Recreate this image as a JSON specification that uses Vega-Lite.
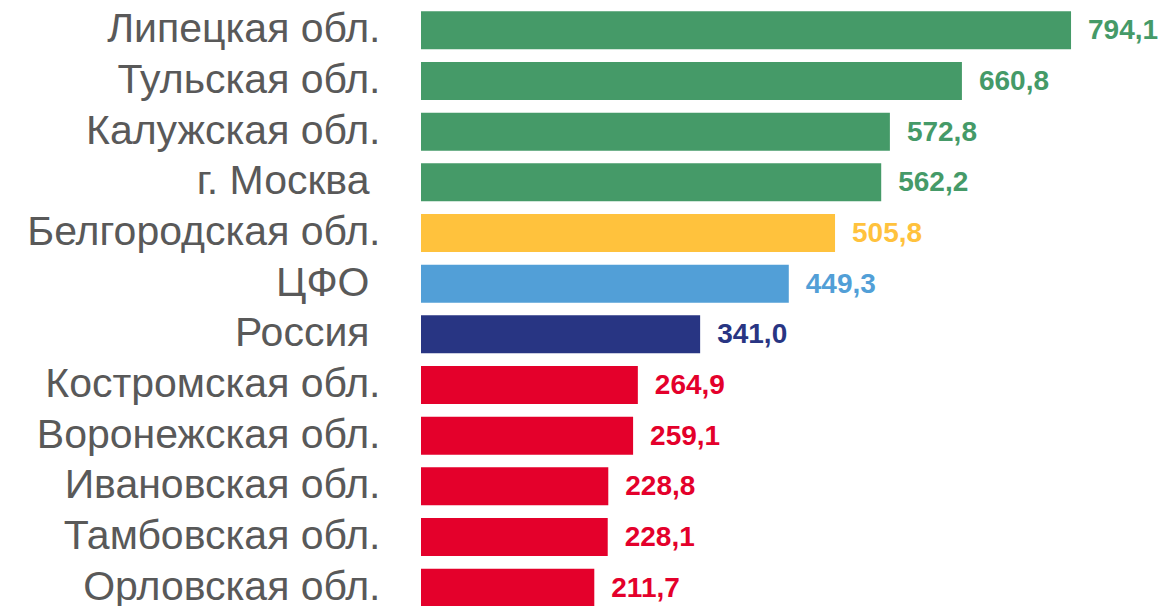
{
  "$schema": "https://vega.github.io/schema/vega-lite/v6.json",
  "width": 740,
  "height": 608,
  "autosize": {"type": "none"},
  "padding": {"left": 421, "top": 5, "right": 0, "bottom": 0},
  "background": "white",
  "config": {
    "view": {"stroke": null},
    "font": "Liberation Sans",
    "locale": {"number": {"decimal": ",", "thousands": " ", "grouping": [3], "currency": ["", " ₽"]}}
  },
  "data": {
    "values": [
      {"region": "Липецкая обл.", "value": 794.1, "group": "high"},
      {"region": "Тульская обл.", "value": 660.8, "group": "high"},
      {"region": "Калужская обл.", "value": 572.8, "group": "high"},
      {"region": "г. Москва", "value": 562.2, "group": "high"},
      {"region": "Белгородская обл.", "value": 505.8, "group": "mid"},
      {"region": "ЦФО", "value": 449.3, "group": "cfo"},
      {"region": "Россия", "value": 341.0, "group": "russia"},
      {"region": "Костромская обл.", "value": 264.9, "group": "low"},
      {"region": "Воронежская обл.", "value": 259.1, "group": "low"},
      {"region": "Ивановская обл.", "value": 228.8, "group": "low"},
      {"region": "Тамбовская обл.", "value": 228.1, "group": "low"},
      {"region": "Орловская обл.", "value": 211.7, "group": "low"}
    ]
  },
  "encoding": {
    "y": {
      "field": "region",
      "type": "nominal",
      "sort": null,
      "scale": {"paddingInner": 0.25, "paddingOuter": 0.125},
      "axis": {
        "title": null,
        "domain": false,
        "ticks": false,
        "labelPadding": {"condition": {"test": "indexof(['г. Москва', 'ЦФО', 'Россия'], datum.value) >= 0", "value": 52}, "value": 41},
        "labelFontSize": 41,
        "labelColor": "#595959",
        "labelLimit": 500,
        "labelFont": "Liberation Sans"
      }
    },
    "x": {
      "field": "value",
      "type": "quantitative",
      "scale": {"domain": [0, 904], "nice": false},
      "axis": null
    },
    "color": {
      "field": "group",
      "type": "nominal",
      "scale": {
        "domain": ["high", "mid", "cfo", "russia", "low"],
        "range": ["#459A68", "#FFC23D", "#529FD7", "#283583", "#E4002B"]
      },
      "legend": null
    }
  },
  "layer": [
    {"mark": {"type": "bar"}},
    {
      "mark": {"type": "text", "align": "left", "baseline": "middle", "dx": 17, "dy": 1, "fontSize": 28, "fontWeight": "bold", "font": "Liberation Sans"},
      "encoding": {"text": {"field": "value", "type": "quantitative", "format": ".1f"}}
    }
  ]
}
